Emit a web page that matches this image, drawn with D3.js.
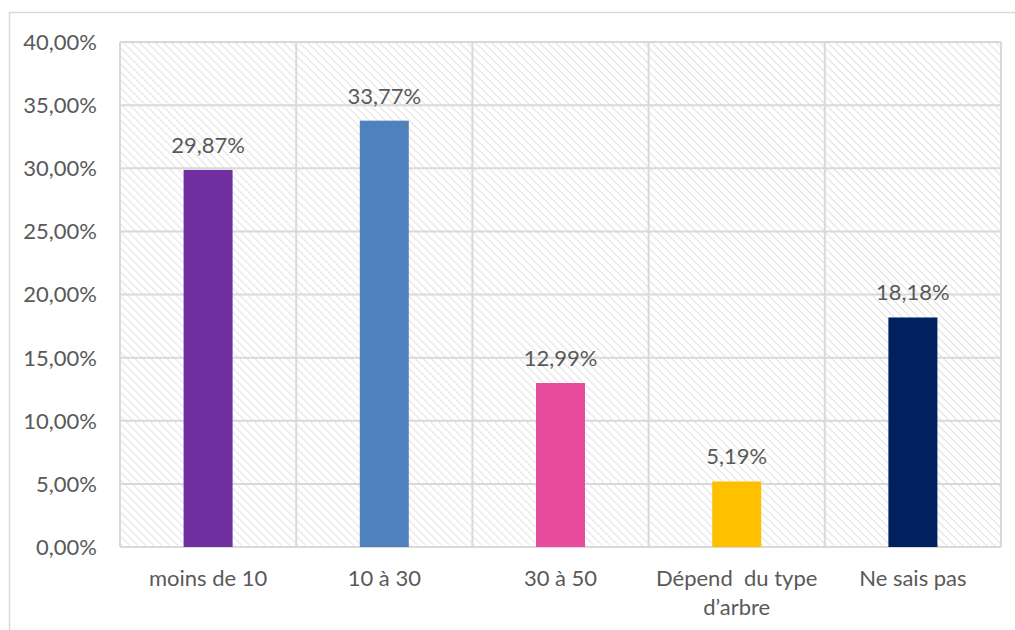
<!DOCTYPE html>
<html>
<head>
<meta charset="utf-8">
<script src="https://cdn.jsdelivr.net/npm/d3@7"></script>
<style>
  body { margin: 0; background: #fff; }
  text { font-family: Lato, "Open Sans", sans-serif; fill: #595959; }
</style>
</head>
<body>
<svg id="chart"></svg>
<script>
var categories = ["moins de 10", "10 à 30", "30 à 50", "Dépend  du type|d’arbre", "Ne sais pas"];
var values = [29.87, 33.77, 12.99, 5.19, 18.18];
var colors = ["#7030A0", "#4F81BD", "#E84C9C", "#FFC000", "#002060"];
var yTicks = [0, 5, 10, 15, 20, 25, 30, 35, 40];

var W = 1015, H = 630;
var plot = {left: 120, top: 42, right: 1001, bottom: 547};
var fmt = v => v.toFixed(2).replace(".", ",") + "%";
var fontSize = "22px";

var svg = d3.select("#chart")
    .attr("width", W)
    .attr("height", H);

// hatch fill for plot background (downward diagonal)
var defs = svg.append("defs");
defs.append("pattern")
    .attr("id", "hatch")
    .attr("patternUnits", "userSpaceOnUse")
    .attr("width", 5.66)
    .attr("height", 8)
    .attr("patternTransform", "rotate(-45)")
    .append("line")
        .attr("x1", 0).attr("y1", 0)
        .attr("x2", 0).attr("y2", 8)
        .attr("stroke", "#e0e0e0")
        .attr("stroke-width", 2);

// outer chart border
svg.append("rect")
    .attr("x", 9.5).attr("y", 12.5)
    .attr("width", W).attr("height", H)
    .attr("fill", "none")
    .attr("stroke", "#d9d9d9")
    .attr("stroke-width", 1.5);

var xScale = d3.scaleBand()
    .domain(categories)
    .range([plot.left, plot.right])
    .paddingInner(0)
    .paddingOuter(0);

var yScale = d3.scaleLinear()
    .domain([0, 40])
    .range([plot.bottom, plot.top]);

// plot area
svg.append("rect")
    .attr("x", plot.left).attr("y", plot.top)
    .attr("width", plot.right - plot.left)
    .attr("height", plot.bottom - plot.top)
    .attr("fill", "url(#hatch)");

// horizontal grid
svg.append("g")
    .selectAll("line")
    .data(yTicks)
    .join("line")
        .attr("x1", plot.left).attr("x2", plot.right)
        .attr("y1", d => yScale(d)).attr("y2", d => yScale(d))
        .attr("stroke", "#d9d9d9")
        .attr("stroke-width", 2);

// vertical grid at category boundaries
var bounds = categories.map(c => xScale(c)).concat([plot.right]);
svg.append("g")
    .selectAll("line")
    .data(bounds)
    .join("line")
        .attr("x1", d => d).attr("x2", d => d)
        .attr("y1", plot.top).attr("y2", plot.bottom)
        .attr("stroke", "#d9d9d9")
        .attr("stroke-width", 2);

// y axis labels
svg.append("g")
    .selectAll("text")
    .data(yTicks)
    .join("text")
        .attr("x", plot.left - 23)
        .attr("y", d => yScale(d))
        .attr("dy", "0.36em")
        .attr("text-anchor", "end")
        .style("font-size", fontSize)
        .text(d => fmt(d));

// bars
var barW = 49;
svg.append("g")
    .selectAll("rect")
    .data(values)
    .join("rect")
        .attr("x", (d, i) => xScale(categories[i]) + xScale.bandwidth() / 2 - barW / 2)
        .attr("y", d => yScale(d))
        .attr("width", barW)
        .attr("height", d => plot.bottom - yScale(d))
        .attr("fill", (d, i) => colors[i]);

// data labels
svg.append("g")
    .selectAll("text")
    .data(values)
    .join("text")
        .attr("x", (d, i) => xScale(categories[i]) + xScale.bandwidth() / 2)
        .attr("y", d => yScale(d) - 25)
        .attr("dy", "0.36em")
        .attr("text-anchor", "middle")
        .style("font-size", fontSize)
        .text(d => fmt(d));

// category labels
svg.append("g")
    .selectAll("text")
    .data(categories)
    .join("text")
        .attr("x", d => xScale(d) + xScale.bandwidth() / 2)
        .attr("y", plot.bottom + 31)
        .attr("text-anchor", "middle")
        .style("font-size", fontSize)
        .style("white-space", "pre")
        .each(function(d) {
            var t = d3.select(this);
            d.split("|").forEach((line, k) => {
                t.append("tspan")
                    .attr("x", xScale(d) + xScale.bandwidth() / 2)
                    .attr("dy", k == 0 ? "0.36em" : "29px")
                    .text(line);
            });
        });
</script>
</body>
</html>
